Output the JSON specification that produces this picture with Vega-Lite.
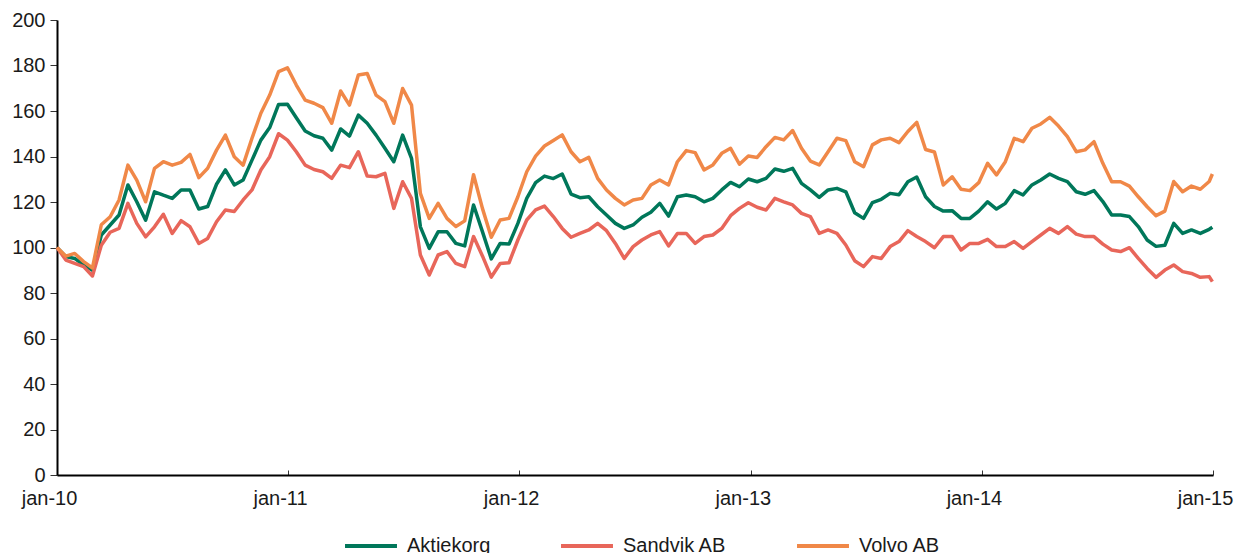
{
 "$schema": "https://vega.github.io/schema/vega-lite/v6.json",
 "width": 1156,
 "height": 455,
 "autosize": {"type": "none"},
 "padding": {"left": 57, "top": 20, "right": 23, "bottom": 78},
 "background": "white",
 "config": {"view": {"stroke": null}, "font": "Liberation Sans", "axis": {"grid": false}},
 "data": {"values": [
  {"d":"2010-01-01","Aktiekorg":100,"Sandvik AB":100,"Volvo AB":100},
  {"d":"2010-01-15","Aktiekorg":96,"Sandvik AB":94.5,"Volvo AB":96.2},
  {"d":"2010-01-29","Aktiekorg":95.2,"Sandvik AB":93,"Volvo AB":97.4},
  {"d":"2010-02-12","Aktiekorg":92.3,"Sandvik AB":91.6,"Volvo AB":93.8},
  {"d":"2010-02-26","Aktiekorg":90,"Sandvik AB":87.5,"Volvo AB":91},
  {"d":"2010-03-12","Aktiekorg":105.5,"Sandvik AB":101,"Volvo AB":110},
  {"d":"2010-03-26","Aktiekorg":109.9,"Sandvik AB":106.7,"Volvo AB":113.5},
  {"d":"2010-04-09","Aktiekorg":114.3,"Sandvik AB":108.4,"Volvo AB":120.9},
  {"d":"2010-04-23","Aktiekorg":127.5,"Sandvik AB":119.4,"Volvo AB":136.2},
  {"d":"2010-05-07","Aktiekorg":120.1,"Sandvik AB":110.6,"Volvo AB":129.6},
  {"d":"2010-05-21","Aktiekorg":112,"Sandvik AB":104.7,"Volvo AB":120.1},
  {"d":"2010-06-04","Aktiekorg":124.5,"Sandvik AB":109.1,"Volvo AB":134.8},
  {"d":"2010-06-18","Aktiekorg":123,"Sandvik AB":114.6,"Volvo AB":137.7},
  {"d":"2010-07-02","Aktiekorg":121.6,"Sandvik AB":106.2,"Volvo AB":136.2},
  {"d":"2010-07-16","Aktiekorg":125.3,"Sandvik AB":111.8,"Volvo AB":137.4},
  {"d":"2010-07-30","Aktiekorg":125.3,"Sandvik AB":109.1,"Volvo AB":140.9},
  {"d":"2010-08-13","Aktiekorg":116.9,"Sandvik AB":101.8,"Volvo AB":130.7},
  {"d":"2010-08-27","Aktiekorg":118,"Sandvik AB":104,"Volvo AB":134.8},
  {"d":"2010-09-10","Aktiekorg":127.8,"Sandvik AB":111.3,"Volvo AB":142.8},
  {"d":"2010-09-24","Aktiekorg":134.1,"Sandvik AB":116.5,"Volvo AB":149.4},
  {"d":"2010-10-08","Aktiekorg":127.5,"Sandvik AB":115.8,"Volvo AB":139.9},
  {"d":"2010-10-22","Aktiekorg":129.7,"Sandvik AB":120.9,"Volvo AB":136.2},
  {"d":"2010-11-05","Aktiekorg":138.4,"Sandvik AB":125.3,"Volvo AB":148},
  {"d":"2010-11-19","Aktiekorg":147.2,"Sandvik AB":134.1,"Volvo AB":159},
  {"d":"2010-12-03","Aktiekorg":152.7,"Sandvik AB":139.9,"Volvo AB":167},
  {"d":"2010-12-17","Aktiekorg":162.9,"Sandvik AB":150,"Volvo AB":177.3},
  {"d":"2010-12-31","Aktiekorg":163,"Sandvik AB":147.2,"Volvo AB":179},
  {"d":"2011-01-14","Aktiekorg":157,"Sandvik AB":142.1,"Volvo AB":171.4},
  {"d":"2011-01-28","Aktiekorg":151.2,"Sandvik AB":136.2,"Volvo AB":164.8},
  {"d":"2011-02-11","Aktiekorg":149.1,"Sandvik AB":134.3,"Volvo AB":163.4},
  {"d":"2011-02-25","Aktiekorg":148,"Sandvik AB":133.3,"Volvo AB":161.5},
  {"d":"2011-03-11","Aktiekorg":142.8,"Sandvik AB":130.4,"Volvo AB":154.6},
  {"d":"2011-03-25","Aktiekorg":152.1,"Sandvik AB":136.2,"Volvo AB":168.8},
  {"d":"2011-04-08","Aktiekorg":149,"Sandvik AB":135.1,"Volvo AB":162.6},
  {"d":"2011-04-22","Aktiekorg":158.2,"Sandvik AB":142.1,"Volvo AB":175.8},
  {"d":"2011-05-06","Aktiekorg":154.6,"Sandvik AB":131.4,"Volvo AB":176.5},
  {"d":"2011-05-20","Aktiekorg":149.4,"Sandvik AB":131.1,"Volvo AB":167},
  {"d":"2011-06-03","Aktiekorg":143.6,"Sandvik AB":132.6,"Volvo AB":164.1},
  {"d":"2011-06-17","Aktiekorg":137.7,"Sandvik AB":117.2,"Volvo AB":154.6},
  {"d":"2011-07-01","Aktiekorg":149.4,"Sandvik AB":128.9,"Volvo AB":169.9},
  {"d":"2011-07-15","Aktiekorg":139.2,"Sandvik AB":121.6,"Volvo AB":162.6},
  {"d":"2011-07-29","Aktiekorg":109.1,"Sandvik AB":96.7,"Volvo AB":123.8},
  {"d":"2011-08-12","Aktiekorg":99.6,"Sandvik AB":87.9,"Volvo AB":112.8},
  {"d":"2011-08-26","Aktiekorg":106.9,"Sandvik AB":96.7,"Volvo AB":119.4},
  {"d":"2011-09-09","Aktiekorg":106.9,"Sandvik AB":98.2,"Volvo AB":112.8},
  {"d":"2011-09-23","Aktiekorg":101.8,"Sandvik AB":93,"Volvo AB":109.2},
  {"d":"2011-10-07","Aktiekorg":100.7,"Sandvik AB":91.6,"Volvo AB":111.7},
  {"d":"2011-10-21","Aktiekorg":118.7,"Sandvik AB":104.8,"Volvo AB":132},
  {"d":"2011-11-04","Aktiekorg":107,"Sandvik AB":96.3,"Volvo AB":117.2},
  {"d":"2011-11-18","Aktiekorg":95,"Sandvik AB":87,"Volvo AB":104.5},
  {"d":"2011-12-02","Aktiekorg":101.8,"Sandvik AB":93,"Volvo AB":112.1},
  {"d":"2011-12-16","Aktiekorg":101.5,"Sandvik AB":93.3,"Volvo AB":112.8},
  {"d":"2011-12-30","Aktiekorg":110.6,"Sandvik AB":103.3,"Volvo AB":122.3},
  {"d":"2012-01-13","Aktiekorg":121.6,"Sandvik AB":112.1,"Volvo AB":133.3},
  {"d":"2012-01-27","Aktiekorg":128.5,"Sandvik AB":116.5,"Volvo AB":140.2},
  {"d":"2012-02-10","Aktiekorg":131.4,"Sandvik AB":118.2,"Volvo AB":144.6},
  {"d":"2012-02-24","Aktiekorg":130.3,"Sandvik AB":113.6,"Volvo AB":147},
  {"d":"2012-03-09","Aktiekorg":132.3,"Sandvik AB":108.4,"Volvo AB":149.5},
  {"d":"2012-03-23","Aktiekorg":123.5,"Sandvik AB":104.5,"Volvo AB":142.1},
  {"d":"2012-04-06","Aktiekorg":121.9,"Sandvik AB":106.2,"Volvo AB":137.7},
  {"d":"2012-04-20","Aktiekorg":122.3,"Sandvik AB":107.7,"Volvo AB":139.6},
  {"d":"2012-05-04","Aktiekorg":117.9,"Sandvik AB":110.6,"Volvo AB":130.4},
  {"d":"2012-05-18","Aktiekorg":114.3,"Sandvik AB":107.4,"Volvo AB":125.3},
  {"d":"2012-06-01","Aktiekorg":110.6,"Sandvik AB":101.8,"Volvo AB":121.6},
  {"d":"2012-06-15","Aktiekorg":108.4,"Sandvik AB":95.2,"Volvo AB":118.7},
  {"d":"2012-06-29","Aktiekorg":109.9,"Sandvik AB":100.4,"Volvo AB":120.9},
  {"d":"2012-07-13","Aktiekorg":113.3,"Sandvik AB":103.3,"Volvo AB":121.6},
  {"d":"2012-07-27","Aktiekorg":115.5,"Sandvik AB":105.5,"Volvo AB":127.5},
  {"d":"2012-08-10","Aktiekorg":119.4,"Sandvik AB":107,"Volvo AB":129.7},
  {"d":"2012-08-24","Aktiekorg":113.8,"Sandvik AB":100.7,"Volvo AB":127.5},
  {"d":"2012-09-07","Aktiekorg":122.3,"Sandvik AB":106.2,"Volvo AB":137.7},
  {"d":"2012-09-21","Aktiekorg":123.1,"Sandvik AB":106.2,"Volvo AB":142.6},
  {"d":"2012-10-05","Aktiekorg":122.3,"Sandvik AB":101.8,"Volvo AB":141.7},
  {"d":"2012-10-19","Aktiekorg":120.1,"Sandvik AB":104.8,"Volvo AB":134.1},
  {"d":"2012-11-02","Aktiekorg":121.6,"Sandvik AB":105.5,"Volvo AB":136.3},
  {"d":"2012-11-16","Aktiekorg":125.3,"Sandvik AB":108.4,"Volvo AB":141.4},
  {"d":"2012-11-30","Aktiekorg":128.6,"Sandvik AB":114,"Volvo AB":143.6},
  {"d":"2012-12-14","Aktiekorg":126.7,"Sandvik AB":117.2,"Volvo AB":136.6},
  {"d":"2012-12-28","Aktiekorg":130.1,"Sandvik AB":119.7,"Volvo AB":140.2},
  {"d":"2013-01-11","Aktiekorg":128.9,"Sandvik AB":117.7,"Volvo AB":139.6},
  {"d":"2013-01-25","Aktiekorg":130.4,"Sandvik AB":116.5,"Volvo AB":144.3},
  {"d":"2013-02-08","Aktiekorg":134.5,"Sandvik AB":121.6,"Volvo AB":148.4},
  {"d":"2013-02-22","Aktiekorg":133.5,"Sandvik AB":120.1,"Volvo AB":147.3},
  {"d":"2013-03-08","Aktiekorg":134.8,"Sandvik AB":118.7,"Volvo AB":151.4},
  {"d":"2013-03-22","Aktiekorg":128.2,"Sandvik AB":115,"Volvo AB":143.6},
  {"d":"2013-04-05","Aktiekorg":125.3,"Sandvik AB":113.6,"Volvo AB":138},
  {"d":"2013-04-19","Aktiekorg":122,"Sandvik AB":106.2,"Volvo AB":136.3},
  {"d":"2013-05-03","Aktiekorg":125.3,"Sandvik AB":107.7,"Volvo AB":142.1},
  {"d":"2013-05-17","Aktiekorg":126,"Sandvik AB":106.2,"Volvo AB":148},
  {"d":"2013-05-31","Aktiekorg":124.5,"Sandvik AB":101.1,"Volvo AB":147},
  {"d":"2013-06-14","Aktiekorg":115.3,"Sandvik AB":94.2,"Volvo AB":137.7},
  {"d":"2013-06-28","Aktiekorg":112.8,"Sandvik AB":91.6,"Volvo AB":135.5},
  {"d":"2013-07-12","Aktiekorg":119.7,"Sandvik AB":96,"Volvo AB":145.1},
  {"d":"2013-07-26","Aktiekorg":121.2,"Sandvik AB":95.2,"Volvo AB":147.3},
  {"d":"2013-08-09","Aktiekorg":123.8,"Sandvik AB":100.4,"Volvo AB":148},
  {"d":"2013-08-23","Aktiekorg":123.2,"Sandvik AB":102.6,"Volvo AB":146.1},
  {"d":"2013-09-06","Aktiekorg":128.9,"Sandvik AB":107.4,"Volvo AB":151},
  {"d":"2013-09-20","Aktiekorg":131,"Sandvik AB":104.8,"Volvo AB":155},
  {"d":"2013-10-04","Aktiekorg":122.3,"Sandvik AB":102.6,"Volvo AB":143.1},
  {"d":"2013-10-18","Aktiekorg":118,"Sandvik AB":99.9,"Volvo AB":142},
  {"d":"2013-11-01","Aktiekorg":116,"Sandvik AB":104.8,"Volvo AB":127.5},
  {"d":"2013-11-15","Aktiekorg":116.2,"Sandvik AB":104.8,"Volvo AB":131.1},
  {"d":"2013-11-29","Aktiekorg":112.8,"Sandvik AB":98.9,"Volvo AB":125.6},
  {"d":"2013-12-13","Aktiekorg":112.8,"Sandvik AB":101.8,"Volvo AB":125},
  {"d":"2013-12-27","Aktiekorg":116,"Sandvik AB":101.8,"Volvo AB":128.5},
  {"d":"2014-01-10","Aktiekorg":120.1,"Sandvik AB":103.6,"Volvo AB":137},
  {"d":"2014-01-24","Aktiekorg":116.9,"Sandvik AB":100.4,"Volvo AB":131.9},
  {"d":"2014-02-07","Aktiekorg":119.4,"Sandvik AB":100.4,"Volvo AB":137.7},
  {"d":"2014-02-21","Aktiekorg":125,"Sandvik AB":102.6,"Volvo AB":148},
  {"d":"2014-03-07","Aktiekorg":123.1,"Sandvik AB":99.6,"Volvo AB":146.5},
  {"d":"2014-03-21","Aktiekorg":127.5,"Sandvik AB":102.6,"Volvo AB":152.4},
  {"d":"2014-04-04","Aktiekorg":129.7,"Sandvik AB":105.5,"Volvo AB":154.3},
  {"d":"2014-04-18","Aktiekorg":132.3,"Sandvik AB":108.4,"Volvo AB":157.2},
  {"d":"2014-05-02","Aktiekorg":130.4,"Sandvik AB":106.2,"Volvo AB":153.4},
  {"d":"2014-05-16","Aktiekorg":129,"Sandvik AB":109.2,"Volvo AB":148.7},
  {"d":"2014-05-30","Aktiekorg":124.5,"Sandvik AB":105.9,"Volvo AB":142.1},
  {"d":"2014-06-13","Aktiekorg":123.4,"Sandvik AB":104.8,"Volvo AB":142.9},
  {"d":"2014-06-27","Aktiekorg":125,"Sandvik AB":104.8,"Volvo AB":146.5},
  {"d":"2014-07-11","Aktiekorg":120.2,"Sandvik AB":101.5,"Volvo AB":137},
  {"d":"2014-07-25","Aktiekorg":114.3,"Sandvik AB":98.9,"Volvo AB":128.9},
  {"d":"2014-08-08","Aktiekorg":114.3,"Sandvik AB":98.2,"Volvo AB":128.9},
  {"d":"2014-08-22","Aktiekorg":113.6,"Sandvik AB":99.9,"Volvo AB":127},
  {"d":"2014-09-05","Aktiekorg":109.2,"Sandvik AB":95.2,"Volvo AB":122.3},
  {"d":"2014-09-19","Aktiekorg":103.3,"Sandvik AB":90.8,"Volvo AB":117.9},
  {"d":"2014-10-03","Aktiekorg":100.5,"Sandvik AB":86.9,"Volvo AB":114},
  {"d":"2014-10-17","Aktiekorg":101,"Sandvik AB":90.1,"Volvo AB":116},
  {"d":"2014-10-31","Aktiekorg":110.6,"Sandvik AB":92.3,"Volvo AB":129},
  {"d":"2014-11-14","Aktiekorg":106.2,"Sandvik AB":89.4,"Volvo AB":124.5},
  {"d":"2014-11-28","Aktiekorg":107.7,"Sandvik AB":88.6,"Volvo AB":127},
  {"d":"2014-12-12","Aktiekorg":106.2,"Sandvik AB":86.9,"Volvo AB":125.6},
  {"d":"2014-12-26","Aktiekorg":108,"Sandvik AB":87.2,"Volvo AB":129},
  {"d":"2014-12-31","Aktiekorg":108.9,"Sandvik AB":85,"Volvo AB":132.3}
 ]},
 "transform": [{"fold": ["Aktiekorg", "Sandvik AB", "Volvo AB"], "as": ["serie", "verdi"]}],
 "mark": {"type": "line", "strokeWidth": 3.5, "strokeJoin": "round"},
 "encoding": {
  "x": {
   "field": "d", "type": "temporal",
   "scale": {"type": "utc", "domain": [{"year": 2010, "month": 1, "date": 1, "utc": true}, {"year": 2015, "month": 1, "date": 1, "utc": true}]},
   "axis": {
    "title": null,
    "values": [
     {"year": 2010, "month": 1, "date": 1, "utc": true},
     {"year": 2011, "month": 1, "date": 1, "utc": true},
     {"year": 2012, "month": 1, "date": 1, "utc": true},
     {"year": 2013, "month": 1, "date": 1, "utc": true},
     {"year": 2014, "month": 1, "date": 1, "utc": true},
     {"year": 2015, "month": 1, "date": 1, "utc": true}
    ],
    "labelExpr": "'jan-' + utcFormat(datum.value, '%y')",
    "labelFlush": false,
    "labelOverlap": false,
    "labelFontSize": 20,
    "labelColor": "#1a1a1a",
    "labelPadding": 18,
    "labelOffset": -8,
    "domainColor": "black",
    "domainWidth": 2,
    "tickColor": "#333333",
    "tickWidth": 1,
    "tickSize": -5
   }
  },
  "y": {
   "field": "verdi", "type": "quantitative",
   "scale": {"domain": [0, 200], "nice": false},
   "axis": {
    "title": null,
    "values": [0, 20, 40, 60, 80, 100, 120, 140, 160, 180, 200],
    "labelFontSize": 20,
    "labelColor": "#1a1a1a",
    "labelPadding": 5,
    "domainColor": "black",
    "domainWidth": 2,
    "tickColor": "#333333",
    "tickWidth": 1,
    "tickSize": 7
   }
  },
  "color": {
   "field": "serie", "type": "nominal",
   "scale": {"domain": ["Aktiekorg", "Sandvik AB", "Volvo AB"], "range": ["#00775A", "#E8665A", "#F08848"]},
   "legend": {
    "title": null,
    "orient": "none",
    "legendX": 286,
    "legendY": 498,
    "direction": "horizontal",
    "symbolType": "stroke",
    "symbolStrokeWidth": 4,
    "symbolSize": 2700,
    "labelFontSize": 20,
    "labelColor": "#1a1a1a",
    "labelOffset": 8,
    "columnPadding": 62,
    "padding": 0
   }
  }
 }
}
